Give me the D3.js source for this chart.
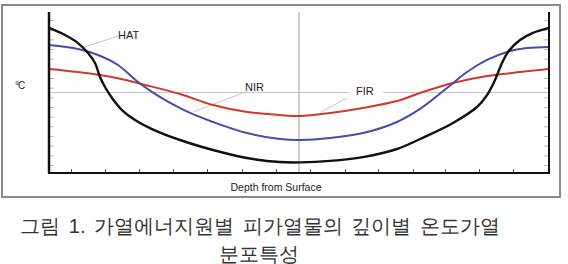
<!DOCTYPE html>
<html>
<head>
<meta charset="utf-8">
<title>Depth temperature profile</title>
<script src="https://d3js.org/d3.v7.min.js"></script>
<style>
  body { margin: 0; background: #fff; }
  svg text { font-family: "Liberation Sans", Arial, sans-serif; }
</style>
</head>
<body>
<svg></svg>
<script>
// depth (0..500, centre = 250) and temperature (arbitrary 0..100)
const hatX = [0, 16, 29, 39, 46, 51, 56, 63, 73, 86, 103, 131, 164, 198, 231, 251, 281, 314, 348, 371, 404, 428, 438, 446, 453, 459, 471, 484, 500];
const hatY = [90.1, 85.7, 80.7, 74.5, 68.3, 59.6, 53.4, 46.6, 39.1, 32.9, 27.3, 20.5, 14.3, 9.3, 6.8, 6.6, 7.5, 9.9, 14.9, 21.1, 31.1, 41, 48.4, 57.8, 68.3, 75.2, 82.6, 87, 90.1];

const nirX = [0, 29, 49, 69, 89, 106, 123, 141, 164, 198, 231, 251, 281, 314, 348, 371, 398, 418, 438, 458, 478, 500];
const nirY = [79.5, 77, 73.3, 67.1, 56.5, 49.1, 42.9, 37.3, 31.7, 24.8, 21.1, 20.5, 21.7, 24.8, 31.7, 39.8, 52.8, 62.7, 70.2, 75.2, 77.6, 78.3];

const firX = [0, 29, 63, 96, 131, 164, 198, 231, 251, 281, 314, 348, 371, 404, 438, 471, 500];
const firY = [64.6, 62.7, 59.6, 54.7, 49.1, 42.2, 37.9, 36, 35.4, 37.3, 40.4, 44.7, 49.7, 55.9, 60.2, 62.7, 64.6];

const xTicks = [22, 56, 90, 124, 158, 193, 227, 261, 296, 329, 364, 396, 430, 464];
const yTicks = [5, 11, 17, 23, 29, 35, 41, 47, 53, 59, 65, 71, 77, 83, 89, 95];

const refLevel = 50;      // horizontal grey line
const centreDepth = 250;  // vertical grey line

const labels = [
  {text: "HAT", x: 69, y: 83.2, fx: 36, fy: 78.3, tx: 69, ty: 85.1, bg: false},
  {text: "NIR", x: 196, y: 50.9, fx: 144, fy: 37.9, tx: 196, ty: 50.3, bg: false},
  {text: "FIR", x: 307, y: 48.4, fx: 272, fy: 37.9, tx: 298, ty: 46.6, bg: true}
];

const caption1 = "그림 1. 가열에너지원별 피가열물의 깊이별 온도가열";
const caption2 = "분포특성";

const W = 568, H = 264;
const svg = d3.select("svg").attr("width", W).attr("height", H);

// outer frame
svg.append("rect")
  .attr("x", 2).attr("y", 5).attr("width", 558).attr("height", 192)
  .attr("fill", "none").attr("stroke", "#8a8a8a").attr("stroke-width", 2);

const x = d3.scaleLinear().domain([0, 500]).range([49, 549]);
const y = d3.scaleLinear().domain([0, 100]).range([173, 12]);

// grey reference lines
svg.append("line")
  .attr("x1", x(0)).attr("x2", x(500))
  .attr("y1", y(refLevel)).attr("y2", y(refLevel))
  .attr("stroke", "#c8c8c8").attr("stroke-width", 1);
svg.append("line")
  .attr("x1", x(centreDepth)).attr("x2", x(centreDepth))
  .attr("y1", y(100)).attr("y2", y(0))
  .attr("stroke", "#9a9a9a").attr("stroke-width", 1);

// ticks
svg.append("g").attr("transform", `translate(0,${y(0)})`)
  .call(d3.axisTop(x).tickValues(xTicks).tickSize(4).tickFormat(""))
  .call(g => g.select(".domain").remove())
  .call(g => g.selectAll("line").attr("stroke", "#555"));
svg.append("g").attr("transform", `translate(${x(0)},0)`)
  .call(d3.axisRight(y).tickValues(yTicks).tickSize(5).tickFormat(""))
  .call(g => g.select(".domain").remove())
  .call(g => g.selectAll("line").attr("stroke", "#bbb"));
svg.append("g").attr("transform", `translate(${x(500)},0)`)
  .call(d3.axisLeft(y).tickValues(yTicks).tickSize(5).tickFormat(""))
  .call(g => g.select(".domain").remove())
  .call(g => g.selectAll("line").attr("stroke", "#bbb"));

// leader lines and labels
labels.forEach(l => {
  svg.append("line")
    .attr("x1", x(l.fx)).attr("y1", y(l.fy))
    .attr("x2", x(l.tx)).attr("y2", y(l.ty))
    .attr("stroke", "#c4c4c4").attr("stroke-width", 1);
  if (l.bg) {
    svg.append("rect")
      .attr("x", x(l.tx) + 2).attr("y", y(refLevel) - 2)
      .attr("width", 34).attr("height", 4).attr("fill", "#fff");
  }
  svg.append("text")
    .attr("x", x(l.x)).attr("y", y(l.y))
    .attr("font-size", 11).attr("fill", "#222")
    .text(l.text);
});

// curves
const line = d3.line().x(d => x(d[0])).y(d => y(d[1])).curve(d3.curveCatmullRom.alpha(0.5));
const series = [
  {xs: firX, ys: firY, color: "#d03a2e", w: 2},
  {xs: nirX, ys: nirY, color: "#4a4aa8", w: 2},
  {xs: hatX, ys: hatY, color: "#111", w: 2.4}
];
series.forEach(s => {
  svg.append("path")
    .datum(s.xs.map((v, i) => [v, s.ys[i]]))
    .attr("d", line)
    .attr("fill", "none")
    .attr("stroke", s.color)
    .attr("stroke-width", s.w);
});

// axes lines
svg.append("line").attr("x1", x(0)).attr("x2", x(0)).attr("y1", y(100)).attr("y2", y(0))
  .attr("stroke", "#111").attr("stroke-width", 2.5);
svg.append("line").attr("x1", x(500)).attr("x2", x(500)).attr("y1", y(100)).attr("y2", y(0))
  .attr("stroke", "#111").attr("stroke-width", 2);
svg.append("line").attr("x1", x(0) - 1).attr("x2", x(500) + 1).attr("y1", y(0)).attr("y2", y(0))
  .attr("stroke", "#111").attr("stroke-width", 2);

// axis titles
svg.append("text").attr("x", 15).attr("y", 89)
  .attr("font-size", 10).attr("fill", "#222").attr("letter-spacing", -1).text("°C");
svg.append("text").attr("x", x(centreDepth) - 23).attr("y", 191)
  .attr("text-anchor", "middle").attr("font-size", 10.5).attr("fill", "#222")
  .text("Depth from Surface");

// caption
svg.append("text").attr("x", 260).attr("y", 233)
  .attr("text-anchor", "middle")
  .attr("font-family", "'Noto Sans CJK KR', sans-serif")
  .attr("font-size", 20).attr("fill", "#333").attr("word-spacing", 3)
  .text(caption1);
svg.append("text").attr("x", 259).attr("y", 261)
  .attr("text-anchor", "middle")
  .attr("font-family", "'Noto Sans CJK KR', sans-serif")
  .attr("font-size", 20).attr("fill", "#333")
  .text(caption2);
</script>
</body>
</html>
